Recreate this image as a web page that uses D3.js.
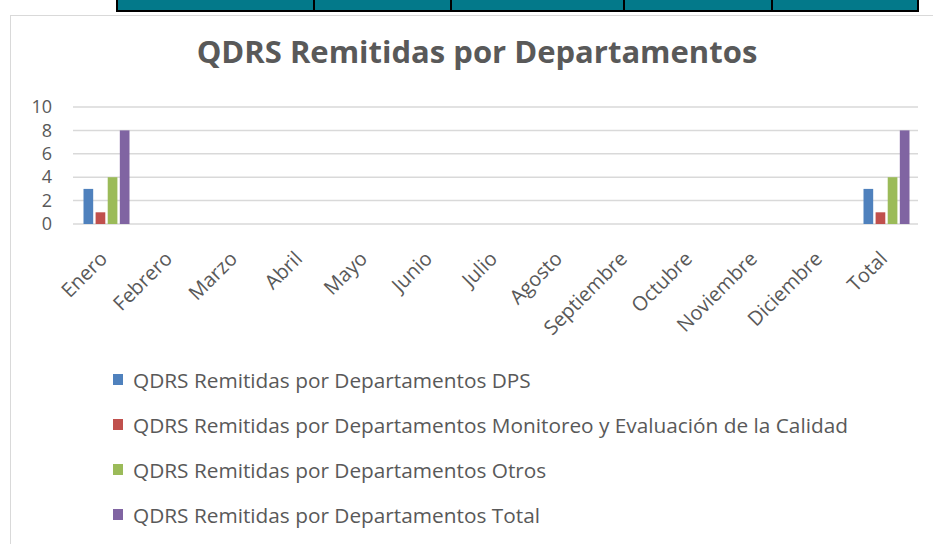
<!DOCTYPE html>
<html>
<head>
<meta charset="utf-8">
<script src="https://cdn.jsdelivr.net/npm/d3@7"></script>
<style>
  body { margin: 0; background: #fff; }
  svg { display: block; font-family: "Open Sans", "Noto Sans", sans-serif; }
</style>
</head>
<body>
<svg width="933" height="544"></svg>
<script>
var categories = ["Enero", "Febrero", "Marzo", "Abril", "Mayo", "Junio", "Julio",
  "Agosto", "Septiembre", "Octubre", "Noviembre", "Diciembre", "Total"]
var seriesNames = [
  "QDRS Remitidas por Departamentos DPS",
  "QDRS Remitidas por Departamentos Monitoreo y Evaluación de la Calidad",
  "QDRS Remitidas por Departamentos Otros",
  "QDRS Remitidas por Departamentos Total"
]
var dps =       [3, null, null, null, null, null, null, null, null, null, null, null, 3]
var monitoreo = [1, null, null, null, null, null, null, null, null, null, null, null, 1]
var otros =     [4, null, null, null, null, null, null, null, null, null, null, null, 4]
var total =     [8, null, null, null, null, null, null, null, null, null, null, null, 8]
var yTicks = [0, 2, 4, 6, 8, 10]
var colors = ["#4f81bd", "#c0504d", "#9bbb59", "#8064a2"]

function main() {
  var svg = d3.select("svg")
  var series = [dps, monitoreo, otros, total]

  // table strip at the top of the page
  var cellEdges = [117, 314, 451, 624, 772, 918]
  svg.append("rect").attr("x", cellEdges[0]).attr("y", 0)
    .attr("width", cellEdges[5] - cellEdges[0]).attr("height", 11)
    .attr("fill", "#03798a")
  svg.append("line").attr("x1", cellEdges[0]).attr("x2", cellEdges[5])
    .attr("y1", 11).attr("y2", 11).attr("stroke", "#000").attr("stroke-width", 2)
  cellEdges.forEach(function (x) {
    svg.append("line").attr("x1", x).attr("x2", x).attr("y1", 0).attr("y2", 12)
      .attr("stroke", "#000").attr("stroke-width", 2)
  })

  // chart frame
  svg.append("rect").attr("x", 10.5).attr("y", 15.5).attr("width", 940).attr("height", 540)
    .attr("fill", "#fff").attr("stroke", "#d9d9d9")

  svg.append("text").attr("x", 477).attr("y", 63).attr("text-anchor", "middle")
    .attr("font-size", 31).attr("font-weight", "bold").attr("fill", "#595959")
    .text("QDRS Remitidas por Departamentos")

  var left = 73, right = 918, top = 107, bottom = 224

  var x = d3.scaleBand().domain(categories).range([left, right])
  var y = d3.scaleLinear().domain([0, 10]).range([bottom, top])
  var x1 = d3.scaleBand().domain(d3.range(series.length)).range([0, 46]).paddingInner(0.2)

  var grid = svg.append("g")
  grid.selectAll("line").data(yTicks).enter().append("line")
    .attr("x1", left).attr("x2", right)
    .attr("y1", function (d) { return y(d) }).attr("y2", function (d) { return y(d) })
    .attr("stroke", "#d9d9d9").attr("stroke-width", 1.5)

  var yAxis = svg.append("g").attr("transform", "translate(" + left + ",0)")
    .call(d3.axisLeft(y).tickValues(yTicks).tickSize(0).tickPadding(10))
  yAxis.select(".domain").remove()
  yAxis.selectAll("text").attr("font-size", 18).attr("fill", "#595959")
    .attr("font-family", "Open Sans, Noto Sans, sans-serif").attr("dx", -11)

  var groups = svg.append("g").selectAll("g").data(categories).enter().append("g")
    .attr("transform", function (d) { return "translate(" + (x(d) + x.bandwidth() / 2 - 22) + ",0)" })

  groups.selectAll("rect")
    .data(function (d, i) { return series.map(function (s, k) { return { k: k, v: s[i] } }) })
    .enter().filter(function (d) { return d.v != null }).append("rect")
    .attr("x", function (d) { return x1(d.k) })
    .attr("width", x1.bandwidth())
    .attr("y", function (d) { return y(d.v) })
    .attr("height", function (d) { return y(0) - y(d.v) })
    .attr("fill", function (d) { return colors[d.k] })

  var xAxis = svg.append("g").attr("transform", "translate(0," + bottom + ")")
    .call(d3.axisBottom(x).tickSize(0).tickPadding(0))
  xAxis.select(".domain").remove()
  xAxis.selectAll("text")
    .attr("font-size", 20).attr("fill", "#595959")
    .attr("font-family", "Open Sans, Noto Sans, sans-serif")
    .attr("text-anchor", "end")
    .attr("y", 0).attr("dy", 0)
    .attr("transform", "translate(3,36) rotate(-45)")

  var legend = svg.append("g").selectAll("g").data(seriesNames).enter().append("g")
    .attr("transform", function (d, i) { return "translate(113," + (380 + i * 45) + ")" })
  legend.append("rect").attr("x", 0).attr("y", -6).attr("width", 10).attr("height", 11)
    .attr("fill", function (d, i) { return colors[i] })
  legend.append("text").attr("x", 20).attr("y", 0).attr("dy", "0.36em")
    .attr("font-size", 20.8).attr("fill", "#595959").text(function (d) { return d })
}
main()
</script>
</body>
</html>
